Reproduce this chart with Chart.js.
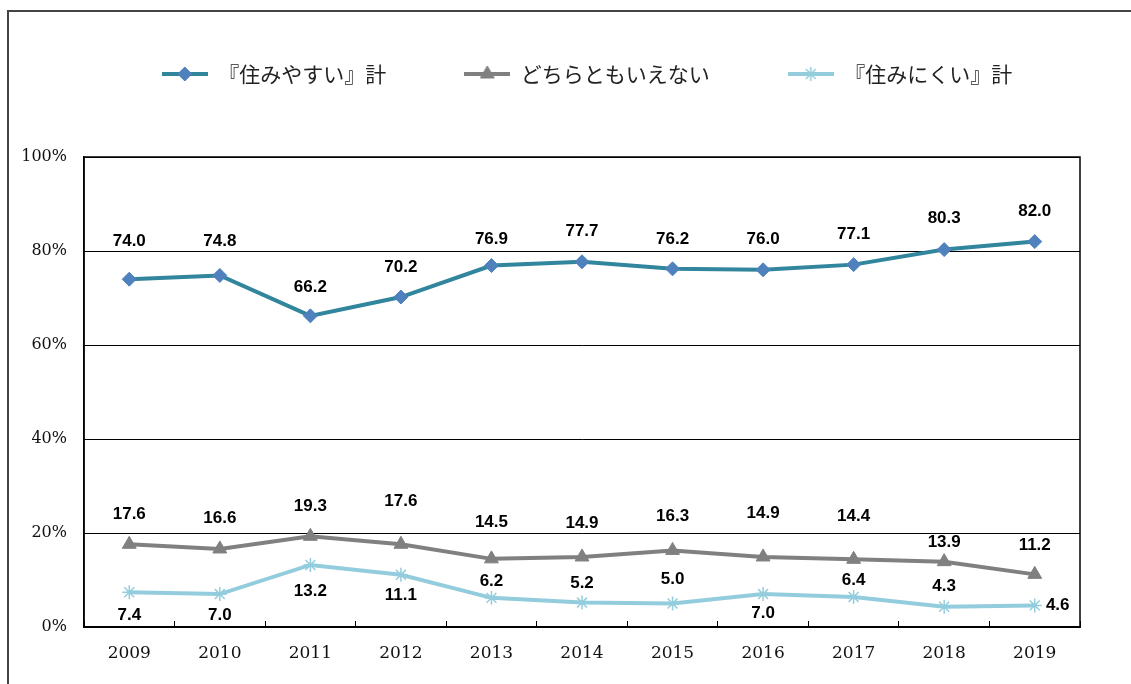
<!DOCTYPE html>
<html>
<head>
<meta charset="utf-8">
<script src="https://cdn.jsdelivr.net/npm/chart.js@4/dist/chart.umd.min.js"></script>
<style>
  html, body { margin: 0; padding: 0; background: #fff; overflow: hidden; }
  #wrap { position: relative; width: 1131px; height: 684px; }
  #frame { position: absolute; left: 7px; top: 10px; width: 2000px; height: 2000px; border: 2px solid #444; box-sizing: border-box; }
  #c { position: absolute; left: 0; top: 0; }
</style>
</head>
<body>
<div id="wrap">
  <div id="frame"></div>
  <canvas id="c" width="1131" height="684"></canvas>
</div>
<script>
// ---- data ----
const years = ['2009','2010','2011','2012','2013','2014','2015','2016','2017','2018','2019'];
const seriesNames = ['『住みやすい』計', 'どちらともいえない', '『住みにくい』計'];
const easyToLive = [74.0, 74.8, 66.2, 70.2, 76.9, 77.7, 76.2, 76.0, 77.1, 80.3, 82.0];
const neither    = [17.6, 16.6, 19.3, 17.6, 14.5, 14.9, 16.3, 14.9, 14.4, 13.9, 11.2];
const hardToLive = [7.4, 7.0, 13.2, 11.1, 6.2, 5.2, 5.0, 7.0, 6.4, 4.3, 4.6];
const yTicks = [0, 20, 40, 60, 80, 100];

// ---- label placement (style) ----
const labelDy = [
  [-38,-34,-29,-30,-26,-30,-30,-30,-30,-31,-30],
  [-30,-31,-30,-43,-37,-34,-34,-44,-43,-19,-29],
  [23,21,26,20,-17,-19,-24,19,-17,-20,0]
];
const labelDx = [
  [0,0,0,0,0,0,0,0,0,0,0],
  [0,0,0,0,0,0,0,0,0,0,0],
  [0,0,0,0,0,0,0,0,0,0,23]
];

const styles = [
  { line: '#31859C', fill: '#4F81BD', point: 'rectRot', radius: 7, pbw: 1 },
  { line: '#808080', fill: '#808080', point: 'triangle', radius: 8, pbw: 1 },
  { line: '#93CDDD', fill: '#93CDDD', point: 'star', radius: 7, pbw: 1.5 }
];

function legendIcon(st) {
  const cv = document.createElement('canvas');
  cv.width = 46; cv.height = 18;
  const g = cv.getContext('2d');
  g.strokeStyle = st.line; g.lineWidth = 4; g.lineCap = 'butt';
  g.beginPath(); g.moveTo(0, 9); g.lineTo(46, 9); g.stroke();
  g.fillStyle = st.fill; g.strokeStyle = st.fill; g.lineWidth = st.pbw;
  Chart.helpers.drawPoint(g, { pointStyle: st.point, radius: st.radius, borderWidth: st.pbw, rotation: 0 }, 23, 9);
  return cv;
}

const datasets = [easyToLive, neither, hardToLive].map((vals, k) => ({
  label: seriesNames[k],
  data: vals,
  borderColor: styles[k].line,
  backgroundColor: styles[k].fill,
  borderWidth: 4,
  pointStyle: styles[k].point,
  pointRadius: styles[k].radius,
  pointHoverRadius: styles[k].radius,
  pointBackgroundColor: styles[k].fill,
  pointBorderColor: styles[k].fill,
  pointBorderWidth: styles[k].pbw,
  tension: 0
}));

const icons = styles.map(legendIcon);

const layoutPlugin = {
  id: 'layoutFix',
  beforeInit(chart) {
    const lg = chart.legend;
    const fit = lg.fit.bind(lg);
    lg.fit = function () { fit(); this.height = 157; };
  },
  afterLayout(chart) {
    const lg = chart.legend;
    lg.left += 47; lg.right += 47;
    lg.top -= 14.5; lg.bottom -= 14.5;
  },
  beforeDatasetsDraw(chart) {
    const { ctx, chartArea: a } = chart;
    ctx.save();
    ctx.strokeStyle = '#000';
    ctx.lineWidth = 1.5;
    ctx.strokeRect(a.left, a.top, a.right - a.left, a.bottom - a.top);
    ctx.restore();
  },
  afterDatasetsDraw(chart) {
    const { ctx } = chart;
    ctx.save();
    ctx.font = 'bold 17px "Liberation Sans", Arial, sans-serif';
    ctx.fillStyle = '#000';
    ctx.textAlign = 'center';
    ctx.textBaseline = 'middle';
    chart.data.datasets.forEach((ds, k) => {
      const meta = chart.getDatasetMeta(k);
      meta.data.forEach((pt, i) => {
        ctx.fillText(ds.data[i].toFixed(1), pt.x + labelDx[k][i], pt.y + labelDy[k][i]);
      });
    });
    ctx.restore();
  }
};

new Chart(document.getElementById('c'), {
  type: 'line',
  data: { labels: years, datasets },
  options: {
    responsive: false,
    animation: false,
    devicePixelRatio: 1,
    layout: { padding: { top: 0, left: 0, right: 51, bottom: 0 } },
    plugins: {
      legend: {
        position: 'top',
        labels: {
          usePointStyle: true,
          pointStyleWidth: 46,
          padding: 78,
          color: '#222',
          font: { family: '"Noto Sans CJK JP", sans-serif', size: 21, weight: 'normal' },
          generateLabels(chart) {
            return chart.data.datasets.map((ds, k) => ({
              text: ds.label,
              pointStyle: icons[k],
              fillStyle: 'transparent',
              strokeStyle: 'transparent',
              lineWidth: 0,
              fontColor: '#222',
              hidden: false,
              datasetIndex: k
            }));
          }
        }
      },
      tooltip: { enabled: false }
    },
    scales: {
      x: {
        offset: true,
        afterFit(s) { s.height = 57; },
        grid: { offset: true, drawOnChartArea: false, drawTicks: true, tickLength: -6, color: '#000', lineWidth: 1 },
        border: { display: true, color: '#000', width: 1.5 },
        ticks: { color: '#111', padding: 22, font: { family: '"DejaVu Serif", serif', size: 17 }, maxRotation: 0 }
      },
      y: {
        min: 0, max: 100,
        afterFit(s) { s.width = 84; },
        afterBuildTicks(s) { s.ticks = yTicks.map(v => ({ value: v })); },
        grid: { drawTicks: false, color: '#000', lineWidth: 1 },
        border: { display: true, color: '#000', width: 1.5 },
        ticks: { color: '#111', padding: 17, font: { family: '"DejaVu Serif", serif', size: 16 }, callback: v => v + '%' }
      }
    }
  },
  plugins: [layoutPlugin]
});
</script>
</body>
</html>
